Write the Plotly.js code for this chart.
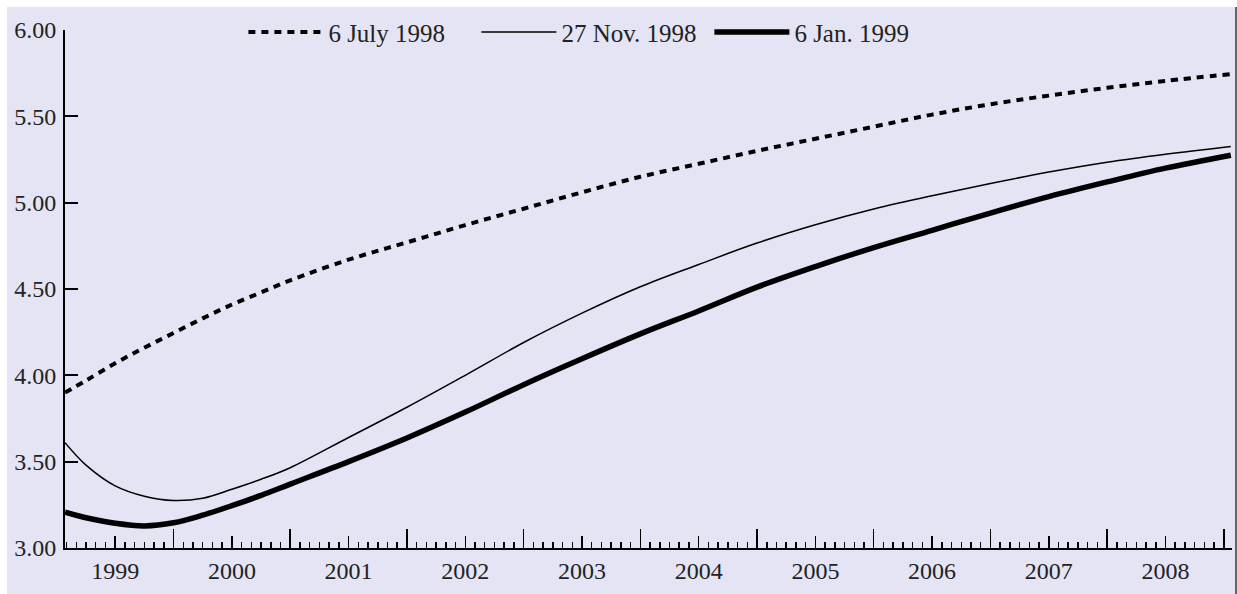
<!DOCTYPE html>
<html>
<head>
<meta charset="utf-8">
<script src="https://cdn.plot.ly/plotly-3.0.1.min.js"></script>
<style>
  html, body { margin: 0; padding: 0; background: #ffffff; }
  #wrap { position: absolute; left: 7px; top: 7px; width: 1228px; height: 587px; border-right: 2px solid #666; }
  #chart { width: 1228px; height: 587px; }
</style>
</head>
<body>
<div id="wrap"><div id="chart"></div></div>
<script>
// Time in decimal years
const years = [1999.07, 1999.25, 1999.5, 1999.75, 2000.0, 2000.25, 2000.5, 2000.75, 2001.0, 2001.5,
               2002.0, 2002.5, 2003.0, 2003.5, 2004.0, 2004.5, 2005.0, 2005.5, 2006.0, 2006.5,
               2007.0, 2007.5, 2008.0, 2008.5, 2009.06];

const july1998 = [3.90, 3.97, 4.07, 4.16, 4.245, 4.33, 4.41, 4.48, 4.55, 4.67,
                  4.77, 4.87, 4.965, 5.06, 5.15, 5.225, 5.30, 5.37, 5.44, 5.51,
                  5.57, 5.62, 5.665, 5.705, 5.745];

const nov1998 = [3.61, 3.48, 3.36, 3.30, 3.275, 3.288, 3.34, 3.398, 3.465, 3.64,
                 3.815, 4.00, 4.19, 4.36, 4.513, 4.642, 4.766, 4.872, 4.963, 5.04,
                 5.111, 5.177, 5.234, 5.28, 5.325];

const jan1999 = [3.207, 3.175, 3.143, 3.128, 3.146, 3.19, 3.245, 3.305, 3.37, 3.50,
                 3.637, 3.787, 3.946, 4.096, 4.24, 4.373, 4.511, 4.63, 4.74, 4.84,
                 4.94, 5.035, 5.12, 5.20, 5.275];

const seriesNames = ['6 July 1998', '27 Nov. 1998', '6 Jan. 1999'];
const yearLabels = ['1999','2000','2001','2002','2003','2004','2005','2006','2007','2008'];
const yTicks = [3.0, 3.5, 4.0, 4.5, 5.0, 5.5, 6.0];

const xRange = [1999.07, 2009.07];
const labelPos = yearLabels.map(y => +y + 0.5);
const yearBounds = yearLabels.map(y => +y + 1);
const monthTicks = [];
for (let y = 1999; y < 2010; y++) for (let m = 1; m < 12; m++) { if (m !== 6) monthTicks.push(y + m / 12); }

const FONT = 'Liberation Serif, Times New Roman, serif';

const traces = [
  { x: years, y: july1998, name: seriesNames[0], mode: 'lines', line: { color: '#000', width: 4, dash: '7px,6px', shape: 'spline', smoothing: 1 } },
  { x: years, y: nov1998, name: seriesNames[1], mode: 'lines', line: { color: '#000', width: 1.5, shape: 'spline', smoothing: 1 } },
  { x: years, y: jan1999, name: seriesNames[2], mode: 'lines', line: { color: '#000', width: 5.5, shape: 'spline', smoothing: 1 } },
  // invisible copy so that the second (year-boundary tick) axis gets drawn
  { x: years, y: jan1999, xaxis: 'x2', yaxis: 'y', mode: 'lines', showlegend: false, hoverinfo: 'skip', line: { color: 'rgba(0,0,0,0)', width: 0 } }
];

const layout = {
  width: 1228, height: 587,
  paper_bgcolor: '#e4e4f4', plot_bgcolor: '#e4e4f4',
  margin: { l: 58, r: 3, t: 23, b: 46, autoexpand: false },
  font: { family: FONT, size: 24, color: '#222' },
  showlegend: true,
  legend: {
    orientation: 'h', xref: 'container', yref: 'container',
    x: 0.1925, xanchor: 'left', y: 0.957, yanchor: 'middle',
    bgcolor: 'rgba(0,0,0,0)', itemwidth: 75,
    entrywidth: 143, entrywidthmode: 'pixels',
    font: { family: FONT, size: 25, color: '#222' }
  },
  xaxis: {
    range: xRange, showgrid: false, zeroline: false,
    showline: true, linecolor: '#000', linewidth: 2,
    tickmode: 'array', tickvals: labelPos, ticktext: yearLabels,
    ticks: 'inside', ticklen: 12, tickwidth: 1.5, tickcolor: '#000',
    ticklabelstandoff: 0,
    minor: { tickmode: 'array', tickvals: monthTicks, ticks: 'inside', ticklen: 6, tickwidth: 1.5, tickcolor: '#000', showgrid: false }
  },
  xaxis2: {
    range: xRange, overlaying: 'x', anchor: 'y', side: 'bottom',
    showgrid: false, zeroline: false, showline: false,
    tickmode: 'array', tickvals: yearBounds, showticklabels: false,
    ticks: 'inside', ticklen: 19, tickwidth: 1.5, tickcolor: '#000'
  },
  yaxis: {
    range: [3, 6], showgrid: false, zeroline: false,
    showline: true, linecolor: '#000', linewidth: 2,
    tickmode: 'array', tickvals: yTicks, tickformat: '.2f',
    ticks: 'inside', ticklen: 13, tickwidth: 2, tickcolor: '#000',
    ticklabelstandoff: 2
  }
};

Plotly.newPlot('chart', traces, layout, { displayModeBar: false, staticPlot: true });
</script>
</body>
</html>
